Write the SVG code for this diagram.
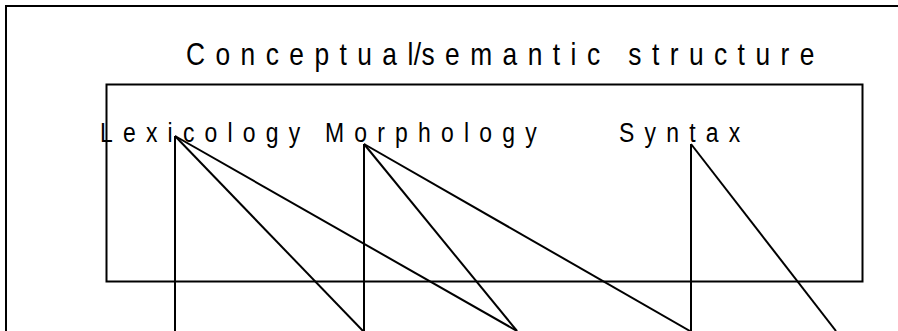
<svg xmlns="http://www.w3.org/2000/svg" width="898" height="331" viewBox="0 0 898 331">
<style>
.frame{fill:none;stroke:#000;stroke-width:2}
.lbl{font-family:"Liberation Sans",Arial,sans-serif;fill:#000}
.c{stroke:#000;stroke-width:2;fill:none}
</style>
<rect width="898" height="331" fill="#fff"/>
<path class="frame" d="M6,331 V6 H898"/>
<g id="title">
<text class="lbl" transform="translate(186,65) scale(0.85,1)" font-size="31" letter-spacing="12.3">Conceptua<tspan letter-spacing="0.5">l/</tspan>semantic structure</text>
</g>
<g id="box">
<rect class="frame" x="106.5" y="84.5" width="756" height="197"/>
</g>
<g id="lexicology">
<text class="lbl" transform="translate(100,142) scale(0.85,1)" font-size="27" letter-spacing="12">Lexicology</text>
</g>
<g id="morphology">
<text class="lbl" transform="translate(325,142) scale(0.85,1)" font-size="27" letter-spacing="12">Morphology</text>
</g>
<g id="syntax">
<text class="lbl" transform="translate(619,142) scale(0.85,1)" font-size="27" letter-spacing="12">Syntax</text>
</g>
<g id="connectors">
<line class="c" x1="175" y1="136" x2="175" y2="331"/>
<line class="c" x1="175" y1="136" x2="363" y2="331"/>
<line class="c" x1="175" y1="136" x2="517" y2="331"/>
<line class="c" x1="364" y1="144" x2="364" y2="331"/>
<line class="c" x1="364" y1="144" x2="517" y2="331"/>
<line class="c" x1="364" y1="144" x2="690" y2="331"/>
<line class="c" x1="691" y1="144" x2="691" y2="331"/>
<line class="c" x1="691" y1="144" x2="836" y2="331"/>
</g>
</svg>
